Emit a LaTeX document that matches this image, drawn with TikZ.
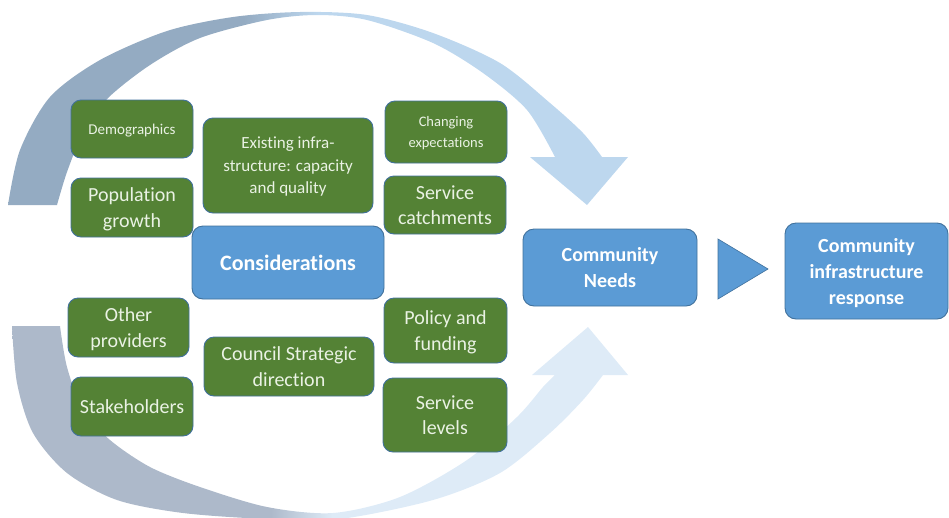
\documentclass[tikz,border=0pt]{standalone}
\usepackage{fontspec}
\setmainfont{Carlito}[Ligatures=NoCommon]
\definecolor{gA}{HTML}{94ABC2}
\definecolor{bA}{HTML}{BDD7EE}
\definecolor{gB}{HTML}{ADB9CA}
\definecolor{bB}{HTML}{DEEBF7}
\definecolor{grn}{HTML}{548235}
\definecolor{blu}{HTML}{5B9BD5}
\definecolor{edgec}{HTML}{41719C}
\definecolor{gtext}{HTML}{EAF2E4}
\pgfdeclarehorizontalshading{topgrad}{100bp}{color(0bp)=(gA); color(44bp)=(gA); color(50bp)=(bA); color(100bp)=(bA)}
\pgfdeclarehorizontalshading{botgrad}{100bp}{color(0bp)=(gB); color(46bp)=(gB); color(51bp)=(bB); color(100bp)=(bB)}
\begin{document}
\begin{tikzpicture}[x=1pt,y=-1pt,
  gbox/.style={draw=edgec, line width=0.9pt, fill=grn, rounded corners=10pt, text=gtext,
    align=center, inner sep=0pt, text depth=0pt, font=\fontsize{20}{25.5}\selectfont},
  bbox/.style={draw=edgec, line width=0.9pt, fill=blu, rounded corners=11pt, text=white,
    align=center, inner sep=0pt, text depth=0pt, font=\bfseries\fontsize{20}{26}\selectfont}]
\useasboundingbox (0,0) rectangle (949,517);
\clip (0,0) rectangle (949,517);
% top curved arrow
\shade[shading=topgrad]
  plot[smooth] coordinates {(8,205) (20,150) (50,97) (100,60) (167,31) (233,17) (300,12) (367,15) (433,33) (500,63) (550,103) (583,133) (602,157)}
  -- (628,157) -- (587,205) -- (530,157)
  -- plot[smooth] coordinates {(555,157) (527,110) (483,73) (433,43) (367,20) (317,15) (267,20) (200,38) (150,65) (107,99) (83,133) (67,172) (57,205)}
  -- cycle;
% bottom curved arrow
\shade[shading=botgrad]
  plot[smooth] coordinates {(12,326) (17,383) (33,433) (67,473) (117,500) (183,513) (267,519) (340,519) (433,500) (500,473) (550,433) (583,400) (603,375)}
  -- (628,375) -- (588,327) -- (532,375)
  -- plot[smooth] coordinates {(555,375) (543,387) (517,417) (467,460) (400,497) (333,513) (267,507) (200,487) (150,467) (110,440) (83,410) (67,367) (60,326)}
  -- cycle;
% green boxes
\node[gbox, minimum width=122pt, minimum height=58pt, font=\fontsize{15}{19}\selectfont] (demo) at (132,129) {Demographics};
\node[gbox, minimum width=122pt, minimum height=59pt] (popg) at (132,207.5) {Population\\growth};
\node[gbox, minimum width=170pt, minimum height=95pt, font=\fontsize{17}{22.5}\selectfont] (exist) at (288,165.5) {Existing infra-\\structure: capacity\\and quality};
\node[gbox, minimum width=122pt, minimum height=62pt, font=\fontsize{14.5}{21}\selectfont] (chg) at (446,132) {Changing\\expectations};
\node[gbox, minimum width=122pt, minimum height=58pt] (svc) at (445,205) {Service\\catchments};
\node[gbox, minimum width=121pt, minimum height=59pt] (other) at (128.5,327.5) {Other\\providers};
\node[gbox, minimum width=122pt, minimum height=59pt] (stake) at (132,406.5) {Stakeholders};
\node[gbox, minimum width=170pt, minimum height=59pt] (council) at (289,366.5) {Council Strategic\\direction};
\node[gbox, minimum width=123pt, minimum height=65pt] (policy) at (445.5,330.5) {Policy and\\funding};
\node[gbox, minimum width=124pt, minimum height=74pt] (svl) at (445,415) {Service\\levels};
% blue boxes
\node[bbox, minimum width=192pt, minimum height=73pt, font=\bfseries\fontsize{22}{26}\selectfont] (cons) at (288,262.5) {Considerations};
\node[bbox, minimum width=174pt, minimum height=77pt] (need) at (610,267.5) {Community\\Needs};
\node[bbox, minimum width=163pt, minimum height=96pt] (resp) at (866.5,271) {Community\\infrastructure\\response};
% triangle arrow
\draw[draw=edgec, line width=0.6pt, fill=blu] (718,239) -- (768,269) -- (718,299) -- cycle;
\end{tikzpicture}
\end{document}
